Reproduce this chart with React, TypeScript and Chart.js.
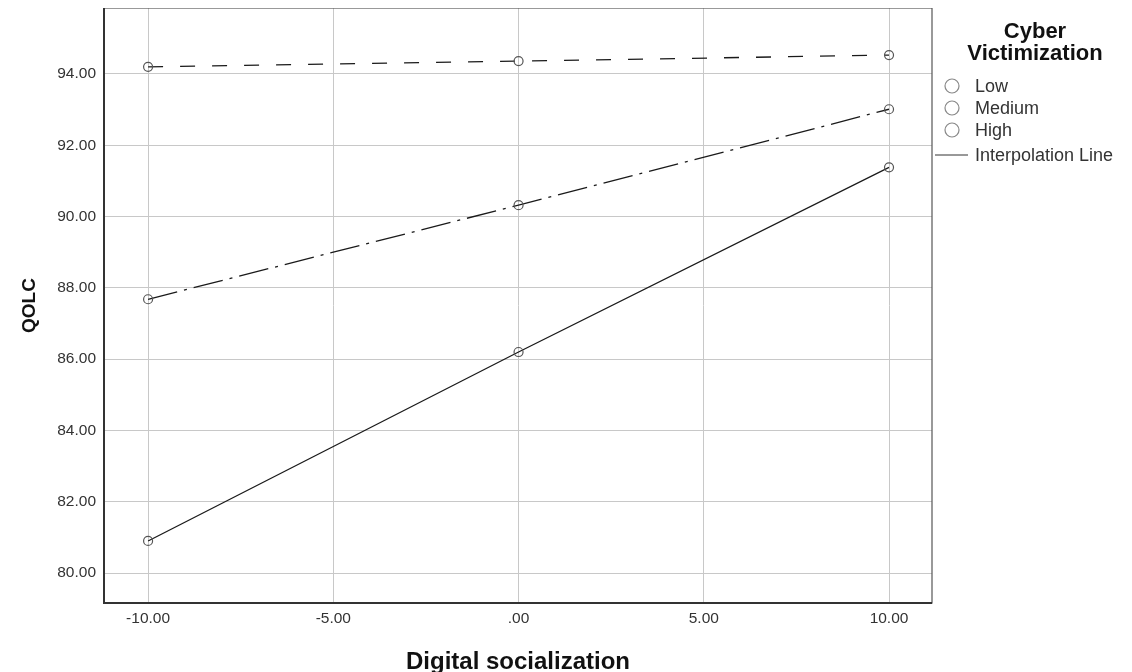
import React, { useEffect, useRef } from "react";
import { Chart, registerables } from "chart.js";

Chart.register(...registerables);

const xValues = [-10, 0, 10];
const lowValues = [94.2, 94.36, 94.53];
const mediumValues = [87.68, 90.32, 93.01];
const highValues = [80.9, 86.2, 91.38];
const legendTitle = ["Cyber", "Victimization"];
const legendItems = ["Low", "Medium", "High"];
const interpolationLabel = "Interpolation Line";
const xTitle = "Digital socialization";
const yTitle = "QOLC";

const FONT = "Arial, 'Liberation Sans', sans-serif";

const fmt = (v: number) => {
  const s = Number(v).toFixed(2);
  if (s === "0.00" || s === "-0.00") return ".00";
  return s;
};

const zeroPad = (axis: any) => {
  axis.paddingTop = 0;
  axis.paddingBottom = 0;
  axis.paddingLeft = 0;
  axis.paddingRight = 0;
};

const frameAndLegend = {
  id: "frameAndLegend",
  afterDraw(chart: any) {
    const { ctx, chartArea } = chart;
    ctx.save();
    // frame
    ctx.strokeStyle = "#555";
    ctx.lineWidth = 1.2;
    ctx.strokeRect(chartArea.left, chartArea.top, chartArea.right - chartArea.left, chartArea.bottom - chartArea.top);
    ctx.strokeStyle = "#333";
    ctx.lineWidth = 2;
    ctx.beginPath();
    ctx.moveTo(chartArea.left, chartArea.top);
    ctx.lineTo(chartArea.left, chartArea.bottom);
    ctx.lineTo(chartArea.right, chartArea.bottom);
    ctx.stroke();

    // legend
    const cx = 1027;
    ctx.fillStyle = "#111";
    ctx.font = "bold 22px " + FONT;
    ctx.textAlign = "center";
    ctx.textBaseline = "middle";
    ctx.fillText(legendTitle[0], cx, 24);
    ctx.fillText(legendTitle[1], cx, 46);

    ctx.font = "18px " + FONT;
    ctx.textAlign = "left";
    const ys = [78, 100, 122];
    legendItems.forEach((t, i) => {
      ctx.beginPath();
      ctx.arc(944, ys[i], 7, 0, Math.PI * 2);
      ctx.strokeStyle = "#888";
      ctx.lineWidth = 1.2;
      ctx.stroke();
      ctx.fillStyle = "#333";
      ctx.fillText(t, 967, ys[i] + 1);
    });
    ctx.beginPath();
    ctx.moveTo(927, 147);
    ctx.lineTo(960, 147);
    ctx.strokeStyle = "#333";
    ctx.lineWidth = 1;
    ctx.stroke();
    ctx.fillStyle = "#333";
    ctx.fillText(interpolationLabel, 967, 148);
    ctx.restore();
  },
};

export default function App() {
  const ref = useRef<HTMLCanvasElement | null>(null);
  useEffect(() => {
    if (!ref.current) return;
    const mk = (vals: number[]) => xValues.map((x, i) => ({ x, y: vals[i] }));
    const common = {
      borderColor: "#1a1a1a",
      borderWidth: 1.3,
      pointRadius: 4.5,
      pointBorderColor: "#555",
      pointBackgroundColor: "rgba(255,255,255,0)",
      pointBorderWidth: 1.2,
      showLine: true,
      fill: false,
    };
    const chart = new Chart(ref.current, {
      type: "scatter",
      data: {
        datasets: [
          { label: "Low", data: mk(lowValues), borderDash: [15, 17], ...common },
          { label: "Medium", data: mk(mediumValues), borderDash: [30, 7, 3, 7], ...common },
          { label: "High", data: mk(highValues), ...common },
        ],
      },
      plugins: [frameAndLegend],
      options: {
        responsive: false,
        animation: false,
        layout: { autoPadding: false, padding: { top: 0, right: 192, left: 0, bottom: 0 } },
        plugins: { legend: { display: false }, tooltip: { enabled: false } },
        scales: {
          x: {
            type: "linear",
            min: -11.19,
            max: 11.16,
            afterBuildTicks: (axis: any) => {
              axis.ticks = [-10, -5, 0, 5, 10].map((v) => ({ value: v }));
            },
            grid: { color: "#c8c8c8", drawTicks: false, lineWidth: 1 },
            border: { display: false },
            ticks: {
              padding: 6,
              color: "#333",
              font: { family: FONT, size: 15.5 },
              callback: (v: any) => fmt(v),
            },
            title: {
              display: true,
              text: xTitle,
              color: "#111",
              font: { family: FONT, size: 24, weight: "bold", lineHeight: 0.8 },
              padding: { top: 10, bottom: 0 },
            },
            afterFit: (axis: any) => {
              axis.height = 69;
              zeroPad(axis);
            },
          },
          y: {
            type: "linear",
            min: 79.16,
            max: 95.85,
            afterBuildTicks: (axis: any) => {
              axis.ticks = [80, 82, 84, 86, 88, 90, 92, 94].map((v) => ({ value: v }));
            },
            grid: { color: "#c8c8c8", drawTicks: false, lineWidth: 1 },
            border: { display: false },
            ticks: {
              padding: 8,
              color: "#333",
              font: { family: FONT, size: 15.5 },
              callback: (v: any) => fmt(v),
            },
            title: {
              display: true,
              text: yTitle,
              color: "#111",
              font: { family: FONT, size: 19, weight: "bold", lineHeight: 1.2 },
              padding: { top: 10, bottom: 0 },
            },
            afterFit: (axis: any) => {
              axis.width = 96;
              zeroPad(axis);
            },
          },
        },
      },
    } as any);
    return () => chart.destroy();
  }, []);
  return (
    <div style={{ width: 1116, height: 664 }}>
      <canvas ref={ref} width={1116} height={664} style={{ display: "block" }} />
    </div>
  );
}
